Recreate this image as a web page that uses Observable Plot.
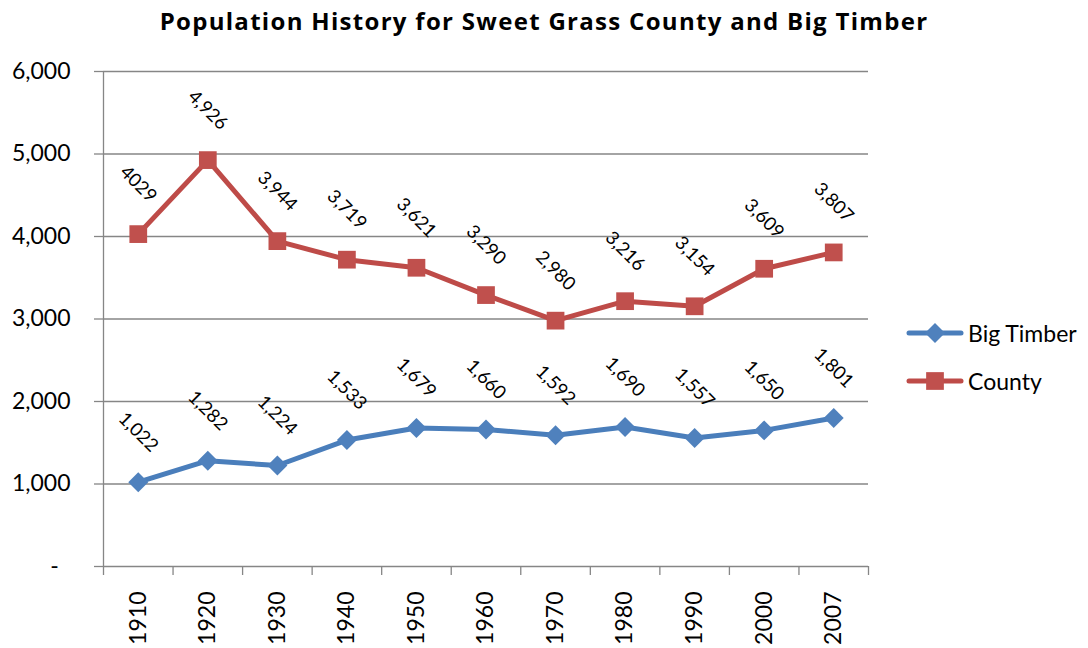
<!DOCTYPE html>
<html>
<head>
<meta charset="utf-8">
<script src="https://cdn.jsdelivr.net/npm/d3@7"></script>
<script src="https://cdn.jsdelivr.net/npm/@observablehq/plot@0.6"></script>
<style>
  body { margin: 0; background: #fff; font-family: Lato, "Open Sans", sans-serif; }
  #wrap { position: relative; width: 1088px; height: 648px; overflow: hidden; }
  #title { position: absolute; left: 0; top: 4px; width: 1088px; text-align: center;
           font-family: "Open Sans", Lato, sans-serif;
           font-weight: bold; font-size: 24px; letter-spacing: 1.3px; color: #000; }
  #chart { position: absolute; left: 0; top: 40px; }
  #legend { position: absolute; left: 906px; top: 319px; font-size: 23px; color: #000; }
  #legend .item { display: flex; align-items: center; height: 28px; margin-bottom: 20px; }
  #legend svg { display: block; margin-right: 4px; }
</style>
</head>
<body>
<div id="wrap">
  <div id="title">Population History for Sweet Grass County and Big Timber</div>
  <div id="chart"></div>
  <div id="legend"></div>
</div>
<script>
// ---- data ----
const years = ["1910", "1920", "1930", "1940", "1950", "1960", "1970", "1980", "1990", "2000", "2007"];
const bigTimber = [1022, 1282, 1224, 1533, 1679, 1660, 1592, 1690, 1557, 1650, 1801];
const county = [4029, 4926, 3944, 3719, 3621, 3290, 2980, 3216, 3154, 3609, 3807];
const bigTimberLabels = ["1,022", "1,282", "1,224", "1,533", "1,679", "1,660", "1,592", "1,690", "1,557", "1,650", "1,801"];
const countyLabels = ["4029", "4,926", "3,944", "3,719", "3,621", "3,290", "2,980", "3,216", "3,154", "3,609", "3,807"];
const seriesNames = ["Big Timber", "County"];
const lineColors = ["#4A7EBB", "#BE4B48"];
const markerColors = ["#4F81BD", "#C0504D"];
const markerSymbols = ["diamond2", "square"];
const markerR = [9, 10];
const yTicks = [0, 1000, 2000, 3000, 4000, 5000, 6000];

// ---- layout ----
const W = 1088, H = 608, ML = 103, MR = 220, MT = 31, MB = 82;
const yMax = 6000;
const step = (W - ML - MR) / years.length;
const tickExt = 9 * yMax / (H - MT - MB);
const gridColor = "#868686";

const seriesValues = [bigTimber, county];
const seriesLabels = [bigTimberLabels, countyLabels];
const rows = [];
seriesNames.forEach((s, k) => {
  years.forEach((yr, i) => rows.push({year: yr, series: s, value: seriesValues[k][i], label: seriesLabels[k][i]}));
});

const fmt = d3.format(",");
const seriesMarks = seriesNames.flatMap((s, k) => {
  const d = rows.filter(r => r.series === s);
  return [
    Plot.line(d, {x: "year", y: "value", stroke: lineColors[k], strokeWidth: 5, strokeLinejoin: "round", strokeLinecap: "round"}),
    Plot.dot(d, {x: "year", y: "value", symbol: markerSymbols[k], r: markerR[k], fill: markerColors[k], stroke: "none"}),
    Plot.text(d, {x: "year", y: "value", text: "label", rotate: 45, dy: -50, fontSize: 18.5, fill: "#000"})
  ];
});

const chart = Plot.plot({
  width: W, height: H,
  marginLeft: ML, marginRight: MR, marginTop: MT, marginBottom: MB,
  style: {fontFamily: "Lato, 'Open Sans', sans-serif", background: "white", color: "#000"},
  x: {type: "point", domain: years, padding: 0.5, round: false, axis: null},
  y: {domain: [0, yMax], axis: null, label: null},
  marks: [
    Plot.gridY(yTicks.filter(v => v > 0), {stroke: gridColor, strokeOpacity: 1, strokeWidth: 1.3}),
    Plot.ruleY([0], {stroke: gridColor, strokeWidth: 1.3}),
    Plot.ruleX([years[0]], {dx: -step / 2, y1: 0, y2: yMax, stroke: gridColor, strokeWidth: 1.3}),
    Plot.ruleX(years, {x: d => d, dx: -step / 2, y1: -tickExt, y2: 0, stroke: gridColor, strokeWidth: 1.3}),
    Plot.ruleX([years[years.length - 1]], {dx: step / 2, y1: -tickExt, y2: 0, stroke: gridColor, strokeWidth: 1.3}),
    Plot.axisY(yTicks, {tickSize: 9, tickPadding: 24, fontSize: 23, stroke: gridColor, strokeWidth: 1.3, label: null,
      tickFormat: d => d === 0 ? "-\u00a0\u00a0" : fmt(d)}),
    Plot.text(years, {x: d => d, frameAnchor: "bottom", dy: 25, rotate: -90, textAnchor: "end", lineAnchor: "middle", fontSize: 23, fill: "#000"}),
    ...seriesMarks
  ]
});
document.getElementById("chart").appendChild(chart);

// ---- legend ----
const legend = d3.select("#legend");
seriesNames.forEach((s, k) => {
  const item = legend.append("div").attr("class", "item");
  const svg = item.append("svg").attr("width", 58).attr("height", 28);
  svg.append("line").attr("x1", 3).attr("x2", 55).attr("y1", 14).attr("y2", 14)
    .attr("stroke", lineColors[k]).attr("stroke-width", 5).attr("stroke-linecap", "round");
  const sym = k === 0 ? d3.symbolDiamond2 : d3.symbolSquare;
  svg.append("path").attr("transform", "translate(29,14)")
    .attr("d", d3.symbol(sym, Math.PI * markerR[k] * markerR[k])())
    .attr("fill", markerColors[k]);
  item.append("span").text(s);
});
</script>
</body>
</html>
